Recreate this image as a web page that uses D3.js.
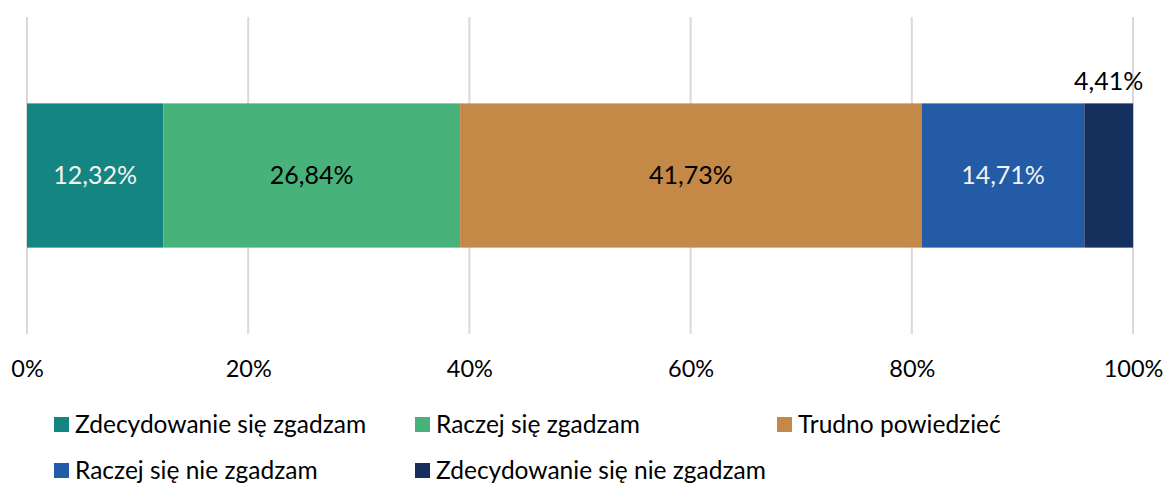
<!DOCTYPE html>
<html>
<head>
<meta charset="utf-8">
<script src="https://cdn.jsdelivr.net/npm/d3@7"></script>
<style>
  body { margin: 0; background: #fff; }
  svg text { font-family: Lato, "Open Sans", sans-serif; }
</style>
</head>
<body>
<svg id="chart" width="1165" height="484"></svg>
<script>
const categories = ['Zdecydowanie się zgadzam', 'Raczej się zgadzam', 'Trudno powiedzieć', 'Raczej się nie zgadzam', 'Zdecydowanie się nie zgadzam'];
const values = [12.32, 26.84, 41.73, 14.71, 4.41];
const colors = ['#148580', '#48b27b', '#c48847', '#245ba7', '#15305c'];
const labelColors = ['#f2f2f2', '#000', '#000', '#f2f2f2', '#000'];
const ticks = [0, 20, 40, 60, 80, 100];

const svg = d3.select('#chart');
const fmt = v => v.toFixed(2).replace('.', ',') + '%';

const x = d3.scaleLinear().domain([0, 100]).range([27, 1133]);
const y = d3.scaleBand().domain(['bar']).range([17, 334]).paddingInner(0.545).paddingOuter(0.272);

// linie siatki
svg.append('g')
  .selectAll('line')
  .data(ticks)
  .enter()
  .append('line')
  .attr('x1', d => x(d)).attr('x2', d => x(d))
  .attr('y1', 17).attr('y2', 334)
  .attr('stroke', '#d9d9d9')
  .attr('stroke-width', 2);

// etykiety osi
const axis = d3.axisBottom(x).tickValues(ticks).tickSize(0).tickFormat(d => d + '%');
const gAxis = svg.append('g').attr('transform', 'translate(0,357)').call(axis);
gAxis.select('.domain').remove();
gAxis.selectAll('text').attr('font-size', 23.5).attr('fill', '#000')
  .style('font-family', 'Lato, sans-serif');

// słupki
let acc = 0;
const segs = values.map((v, i) => {
  const s = { cat: categories[i], v: v, start: acc, i: i };
  acc += v;
  return s;
});

svg.append('g')
  .selectAll('rect')
  .data(segs)
  .enter()
  .append('rect')
  .attr('x', d => x(d.start))
  .attr('width', d => x(d.start + d.v) - x(d.start))
  .attr('y', y('bar'))
  .attr('height', y.bandwidth())
  .attr('fill', d => colors[d.i]);

svg.append('g')
  .selectAll('text')
  .data(segs)
  .enter()
  .append('text')
  .attr('x', d => x(d.start + d.v / 2))
  .attr('y', d => d.v < 5 ? y('bar') - 13 : y('bar') + y.bandwidth() / 2 + 8)
  .attr('text-anchor', 'middle')
  .attr('font-size', 25)
  .attr('fill', d => labelColors[d.i])
  .text(d => fmt(d.v));

// legenda
const legendPos = [[54, 425], [415, 425], [777, 425], [54, 471], [415, 471]];
const leg = svg.append('g')
  .selectAll('g')
  .data(categories)
  .enter()
  .append('g')
  .attr('transform', (d, i) => `translate(${legendPos[i][0]},${legendPos[i][1]})`);
leg.append('rect')
  .attr('x', 0).attr('y', -8).attr('width', 15).attr('height', 15)
  .attr('fill', (d, i) => colors[i]);
leg.append('text')
  .attr('x', 21).attr('y', 8)
  .attr('font-size', 24.5)
  .attr('fill', '#000')
  .text(d => d);
</script>
</body>
</html>
